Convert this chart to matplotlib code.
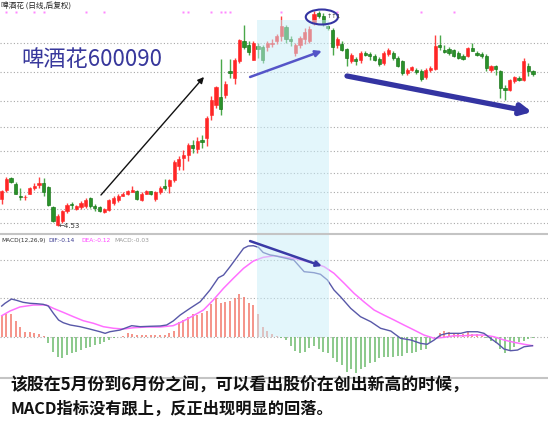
import matplotlib
matplotlib.use('Agg')
import matplotlib.pyplot as plt
import numpy as np
from matplotlib.patches import Ellipse
from matplotlib.lines import Line2D

plt.rcParams['font.family'] = ['Noto Sans CJK SC', 'DejaVu Sans']

# ---------------- data (daily OHLC) ----------------
opens = [5.06, 5.25, 5.48, 5.38, 5.13, 5.10, 5.18, 5.28, 5.34, 5.39,
         5.30, 4.90, 4.55, 4.62, 4.82, 4.96, 4.87, 4.90, 4.92, 5.08,
         4.93, 4.90, 4.80, 4.85, 4.98, 5.04, 5.14, 5.17, 5.22, 5.22,
         5.04, 5.18, 5.22, 5.06, 5.21, 5.32, 5.32, 5.44, 5.73, 5.88,
         5.95, 6.15, 6.07, 6.24, 6.28, 6.75, 6.95, 7.10, 7.15, 7.62,
         7.48, 7.82, 8.23, 8.15, 7.85, 8.13, 8.10, 8.10, 8.16, 8.22,
         8.32, 8.50, 8.26, 7.98, 8.15, 8.27, 8.22, 8.62, 8.78, 8.73,
         8.52, 8.44, 8.15, 8.17, 8.06, 7.82, 7.86, 7.85, 7.98, 7.96,
         7.92, 7.86, 7.78, 7.97, 7.98, 7.88, 7.82, 7.58, 7.65, 7.65,
         7.62, 7.50, 7.64, 7.66, 8.15, 8.05, 8.06, 8.04, 7.98, 7.93,
         7.93, 8.08, 7.98, 7.96, 7.93, 7.65, 7.72, 7.62, 7.28, 7.25,
         7.42, 7.48, 7.45, 7.73, 7.62]
closes = [5.22, 5.47, 5.40, 5.18, 5.11, 5.11, 5.28, 5.33, 5.38, 5.22,
          4.94, 4.63, 4.72, 4.82, 4.95, 4.94, 4.92, 4.98, 5.05, 4.92,
          4.88, 4.83, 4.87, 5.04, 5.08, 5.14, 5.18, 5.22, 5.26, 5.06,
          5.18, 5.23, 5.17, 5.21, 5.28, 5.28, 5.44, 5.80, 5.86, 5.94,
          6.15, 6.08, 6.23, 6.20, 6.68, 7.04, 7.30, 6.86, 7.37, 7.58,
          7.85, 8.25, 8.12, 8.00, 8.18, 8.06, 7.85, 8.18, 8.18, 8.33,
          8.52, 8.26, 8.22, 8.15, 8.28, 8.41, 8.46, 8.77, 8.72, 8.57,
          8.48, 8.12, 8.26, 8.05, 7.88, 7.95, 7.82, 7.98, 7.95, 7.92,
          7.85, 7.77, 7.98, 8.04, 7.88, 7.73, 7.58, 7.65, 7.70, 7.60,
          7.46, 7.64, 7.68, 8.13, 8.10, 8.01, 7.98, 7.93, 7.88, 7.86,
          8.08, 8.04, 7.95, 7.92, 7.68, 7.72, 7.66, 7.28, 7.24, 7.44,
          7.50, 7.45, 7.82, 7.62, 7.57]
highs = [5.25, 5.50, 5.51, 5.40, 5.29, 5.15, 5.31, 5.38, 5.52, 5.48,
         5.32, 4.92, 4.76, 4.85, 4.98, 5.01, 4.95, 5.03, 5.09, 5.11,
         4.96, 4.93, 4.88, 5.06, 5.12, 5.17, 5.22, 5.25, 5.32, 5.24,
         5.20, 5.25, 5.23, 5.23, 5.32, 5.46, 5.46, 5.84, 5.92, 6.05,
         6.18, 6.25, 6.31, 6.35, 6.73, 7.12, 7.33, 7.86, 7.42, 7.86,
         7.88, 8.28, 8.55, 8.22, 8.22, 8.18, 8.15, 8.22, 8.28, 8.37,
         8.72, 8.55, 8.32, 8.20, 8.32, 8.49, 8.52, 8.82, 8.82, 8.78,
         8.55, 8.48, 8.30, 8.22, 8.08, 7.98, 7.90, 8.02, 8.02, 8.00,
         7.96, 7.90, 8.02, 8.08, 8.02, 7.92, 7.85, 7.68, 7.73, 7.68,
         7.66, 7.68, 7.73, 8.35, 8.35, 8.15, 8.12, 8.06, 8.02, 7.97,
         8.10, 8.18, 8.02, 8.00, 7.96, 7.75, 7.75, 7.65, 7.35, 7.46,
         7.53, 7.52, 7.88, 7.78, 7.65]
lows = [4.96, 5.22, 5.38, 5.16, 5.05, 5.05, 5.16, 5.25, 5.28, 5.12,
        4.92, 4.60, 4.53, 4.59, 4.78, 4.87, 4.85, 4.87, 4.89, 4.89,
        4.82, 4.80, 4.78, 4.83, 4.95, 5.00, 5.12, 5.15, 5.20, 5.04,
        5.02, 5.16, 5.15, 5.02, 5.18, 5.25, 5.19, 5.40, 5.65, 5.65,
        5.82, 5.98, 5.99, 6.09, 6.12, 6.65, 6.88, 6.75, 7.08, 7.48,
        7.37, 7.78, 8.06, 7.95, 7.84, 7.88, 7.78, 8.02, 8.12, 8.17,
        8.22, 8.18, 8.13, 7.92, 8.08, 8.17, 8.18, 8.55, 8.68, 8.52,
        8.44, 7.95, 8.08, 8.02, 7.72, 7.78, 7.75, 7.78, 7.92, 7.85,
        7.82, 7.73, 7.75, 7.93, 7.85, 7.70, 7.55, 7.55, 7.62, 7.57,
        7.42, 7.46, 7.60, 7.65, 8.05, 7.98, 7.95, 7.90, 7.86, 7.84,
        7.90, 8.02, 7.92, 7.88, 7.62, 7.60, 7.55, 7.08, 7.05, 7.22,
        7.38, 7.42, 7.42, 7.52, 7.52]

# MACD histogram per day
macd_bar = [0.274, 0.292, 0.292, 0.205, 0.131, 0.065, 0.057, 0.044, 0.031, 0.010,
            -0.082, -0.196, -0.261, -0.274, -0.239, -0.213, -0.196, -0.174, -0.151, -0.131,
            -0.108, -0.099, -0.073, -0.043, -0.017, -0.005, 0.005, 0.044, 0.031, 0.022,
            0.018, 0.022, 0.018, 0.022, 0.018, 0.022, 0.052, 0.074, 0.196, 0.218,
            0.261, 0.292, 0.283, 0.305, 0.336, 0.427, 0.509, 0.444, 0.449, 0.466,
            0.509, 0.557, 0.522, 0.444, 0.414, 0.292, 0.131, 0.074, 0.031, 0.010,
            -0.020, -0.043, -0.117, -0.187, -0.217, -0.196, -0.151, -0.117, -0.161, -0.196,
            -0.217, -0.282, -0.326, -0.369, -0.457, -0.422, -0.478, -0.422, -0.392, -0.347,
            -0.326, -0.282, -0.261, -0.261, -0.261, -0.248, -0.248, -0.217, -0.217, -0.196,
            -0.174, -0.161, -0.065, 0.000, 0.044, 0.074, 0.061, 0.044, 0.044, 0.031,
            0.061, 0.031, 0.031, 0.010, -0.020, -0.056, -0.087, -0.161, -0.217, -0.174,
            -0.131, -0.073, -0.056, -0.030, -0.013]

# DIF / DEA lines (day position, value)
dif_x = [0, 0.7, 2.1, 3.2, 4.6, 6.1, 7.5, 8.9, 10.0, 11.1, 12.2, 13.2, 14.7, 16.8,
         18.9, 21.1, 22.2, 23.2, 25.4, 27.9, 29.7, 31.8, 34.0, 35.4, 36.8, 38.3,
         40.4, 42.6, 44.7, 46.5, 47.6, 49.0, 50.4, 51.9, 52.9, 54.0, 55.1, 56.1,
         57.6, 58.4, 62.7, 64.9, 67.0, 68.4, 69.9, 71.3, 72.7, 74.9, 77.0, 79.2,
         81.3, 83.5, 85.6, 87.8, 89.9, 91.3, 92.8, 94.2, 95.6, 97.1, 98.5, 99.9,
         102.1, 103.5, 104.9, 106.4, 107.8, 109.2, 110.7, 112.1, 113.9]
dif_v = [0.40, 0.436, 0.492, 0.475, 0.449, 0.436, 0.431, 0.423, 0.401, 0.305, 0.218,
         0.183, 0.153, 0.131, 0.10, 0.065, 0.044, 0.065, 0.087, 0.144, 0.131, 0.136,
         0.140, 0.153, 0.205, 0.283, 0.37, 0.457, 0.61, 0.77, 0.805, 0.914, 1.03,
         1.154, 1.184, 1.188, 1.167, 1.10, 1.067, 1.06, 1.0, 0.849, 0.836, 0.815,
         0.74, 0.61, 0.522, 0.37, 0.261, 0.196, 0.11, 0.074, -0.021, -0.043, -0.087,
         -0.099, -0.043, 0.022, 0.044, 0.044, 0.044, 0.065, 0.065, 0.044, -0.021,
         -0.087, -0.161, -0.183, -0.174, -0.131, -0.117]
dea_x = [0, 1.8, 3.9, 6.8, 9.6, 11.1, 13.2, 15.4, 17.5, 19.7, 21.8, 24.0, 26.1,
         28.2, 31.1, 34.0, 36.8, 39.0, 41.1, 43.3, 45.4, 47.6, 49.7, 51.9, 54.0,
         56.1, 58.4, 62.7, 67.0, 69.2, 71.3, 73.5, 75.6, 77.7, 79.9, 82.0, 84.2,
         86.3, 88.5, 90.6, 92.8, 94.9, 97.1, 99.2, 101.4, 103.5, 105.6, 107.8,
         109.9, 112.1, 113.9]
dea_v = [0.274, 0.336, 0.388, 0.414, 0.414, 0.37, 0.318, 0.261, 0.209, 0.175, 0.131,
         0.11, 0.10, 0.117, 0.127, 0.127, 0.144, 0.205, 0.274, 0.349, 0.479, 0.632,
         0.762, 0.893, 0.988, 1.036, 1.057, 1.023, 0.958, 0.914, 0.828, 0.697, 0.567,
         0.457, 0.349, 0.283, 0.218, 0.153, 0.087, 0.022, -0.021, -0.008, 0.013,
         0.013, 0.022, 0.022, 0.0, -0.043, -0.073, -0.099, -0.117]

price_grid = [4.59, 4.87, 5.20, 5.60, 6.03, 6.50, 7.03, 7.60, 8.18]
macd_grid = [0.0, 0.5, 1.0]
event_days = [1, 3, 7, 9, 18, 22, 39, 40, 45, 47, 48, 49, 60, 72, 90, 97]
shade_days = (54.7, 70.2)
low_label = (12.2, 4.53, '←4.53')

title = '啤酒花 (日线,后复权)'
stock_label = '啤酒花600090'
macd_header = [('MACD(12,26,9)', '#333333'), ('DIF:-0.14', '#3a3a90'),
               ('DEA:-0.12', '#ff44ff'), ('MACD:-0.03', '#999999')]
caption1 = '该股在5月份到6月份之间，可以看出股价在创出新高的时候，'
caption2 = 'MACD指标没有跟上，反正出现明显的回落。'

# ---------------- figure ----------------
W, H = 548, 423
fig = plt.figure(figsize=(W / 100, H / 100), dpi=100)
fig.patch.set_facecolor('white')

def fy(px):
    return 1 - px / H

xlim = (-0.365, 117.23)
axp = fig.add_axes([0, fy(233), 1, 223 / H])
axp.set_xlim(*xlim)
axp.set_ylim(4.39, 8.85)
axp.axis('off')

axm = fig.add_axes([0, fy(377), 1, 143 / H])
axm.set_xlim(*xlim)
axm.set_ylim(-0.526, 1.341)
axm.axis('off')

dots = (0, (1, 2))
for g in price_grid:
    axp.axhline(g, color='#a8a8a8', lw=0.8, ls=dots, zorder=1)
for g in macd_grid:
    axm.axhline(g, color='#a8a8a8', lw=0.8, ls=dots, zorder=1)

n = len(opens)
x = np.arange(n)
o = np.array(opens); c = np.array(closes)
hi = np.array(highs); lo = np.array(lows)
up = c >= o
red, green = '#ff2626', '#2a922a'
wick_col = np.where(up, '#ff4040', '#4aa84a')
axp.vlines(x, lo, hi, colors=wick_col, lw=1.0, zorder=2)
bottom = np.minimum(o, c)
height = np.maximum(np.abs(c - o), 0.012)
axp.bar(x[up], height[up], bottom=bottom[up], width=0.68, color=red,
        edgecolor=red, lw=0.4, zorder=3)
axp.bar(x[~up], height[~up], bottom=bottom[~up], width=0.68, color=green,
        edgecolor='#0c6a0c', lw=0.4, zorder=3)

axp.plot(event_days, [8.81] * len(event_days), 's', ms=1.8, color='#ff88ff',
         mec='none', zorder=4, clip_on=False)

# MACD panel
mb = np.array(macd_bar)
axm.vlines(x[mb >= 0], 0, mb[mb >= 0], colors='#f2766a', lw=1.1, zorder=2)
axm.vlines(x[mb < 0], 0, mb[mb < 0], colors='#6cbb6c', lw=1.1, zorder=2)
axm.plot(dea_x, dea_v, color='#ff70ff', lw=1.1, zorder=3)
axm.plot(dif_x, dif_v, color='#5858a8', lw=1.0, zorder=3)

# shaded period (overlay)
shade = '#c8eef9'
axp.fill_between(shade_days, 4.39, 8.65, color=shade, alpha=0.5, lw=0, zorder=5)
axm.fill_between(shade_days, 0, 1.341, color=shade, alpha=0.5, lw=0, zorder=5)

# annotations
axp.annotate('', xy=(43.4, 7.51), xytext=(21.3, 5.15),
             arrowprops=dict(arrowstyle='-|>', color='#111111', lw=1.0,
                             mutation_scale=9, shrinkA=0, shrinkB=0), zorder=6)
axp.annotate('', xy=(68.7, 8.03), xytext=(53.3, 7.51),
             arrowprops=dict(arrowstyle='-|>', color='#5555c8', lw=1.8,
                             mutation_scale=9, shrinkA=0, shrinkB=0), zorder=6)
axp.annotate('', xy=(113.8, 6.81), xytext=(74.1, 7.53),
             arrowprops=dict(arrowstyle='-|>', color='#3434a2', lw=3.8,
                             mutation_scale=16, shrinkA=0, shrinkB=0), zorder=6)
axm.annotate('', xy=(68.7, 0.923), xytext=(53.3, 1.249),
             arrowprops=dict(arrowstyle='-|>', color='#3a3aa6', lw=1.8,
                             mutation_scale=8, shrinkA=0, shrinkB=0), zorder=6)
axp.add_patch(Ellipse((68.7, 8.71), 6.9, 0.30, fill=False, ec='#3434a2',
                      lw=1.5, zorder=7, clip_on=False))
axp.text(low_label[0], low_label[1], low_label[2], fontsize=5, color='#333333',
         ha='left', va='center', family=['DejaVu Sans'], zorder=6)

# texts
fig.text(1 / W, fy(6), title, fontsize=5.5, color='#222222', ha='left', va='center')
fig.text(327 / W, fy(16), '↑↑1', fontsize=4.5, color='#444444', ha='left',
         va='center', family=['DejaVu Sans'])
fig.text(21 / W, fy(59), stock_label, fontsize=16, color='#38389c', ha='left',
         va='center', fontweight='light')
hx = [1, 48, 81, 114]
for (t, col), xx in zip(macd_header, hx):
    fig.text(xx / W, fy(240), t, fontsize=4.2, color=col, ha='left', va='center',
             family=['DejaVu Sans'])
fig.text(10 / W, fy(386), caption1, fontsize=12.2, color='#111111', ha='left',
         va='center', fontweight='semibold')
fig.text(10 / W, fy(409), caption2, fontsize=11.7, color='#111111', ha='left',
         va='center', fontweight='semibold')

# separators
for yy in (234, 378):
    fig.add_artist(Line2D([0, 1], [fy(yy), fy(yy)], color='#c4c4c4', lw=1.5))

fig.savefig('out.png', dpi=100, facecolor='white')
